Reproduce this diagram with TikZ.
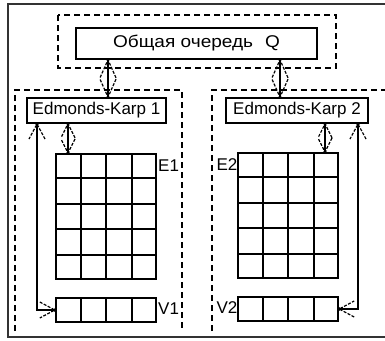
\documentclass[tikz,border=0pt]{standalone}
\usepackage{fontspec}
\setmainfont{Liberation Sans}
\newfontfamily\widefont[FakeStretch=1.12]{Liberation Sans}
\usetikzlibrary{calc,decorations.markings}
\begin{document}
\begin{tikzpicture}[x=1pt,y=-1pt,
  box/.style={draw, line width=1.6pt, inner sep=0pt, font=\fontsize{17}{19}\selectfont},
  dbox/.style={draw, line width=1.5pt, dash pattern=on 6pt off 4pt},
  cellbox/.style={draw, line width=2pt, inner sep=0pt},
  gridln/.style={line width=2pt},
  lbl/.style={inner sep=0pt, font=\fontsize{17}{19}\selectfont},
  conn/.style={line width=1.5pt},
  headst/.style={line width=1.2pt, dash pattern=on 3pt off 1.5pt},
  dblhead/.style 2 args={postaction={decorate,decoration={markings,
    mark=at position 0.001 with {\draw[headst] (#1pt,#2pt) -- (0,0) -- (#1pt,-#2pt); \fill (0,0) circle (1.8pt);},
    mark=at position 0.999 with {\draw[headst] (-#1pt,#2pt) -- (0,0) -- (-#1pt,-#2pt); \fill (0,0) circle (1.8pt);}}}}
]
\useasboundingbox (0,0) rectangle (385,340);
\clip (0,0) rectangle (385,340);
\fill[white] (0,0) rectangle (385,340);
% outer frame
\draw[line width=2pt, black!80] (390,3.5) -- (7.5,3.5) -- (7.5,337) -- (390,337);
% dashed groups
\draw[dbox] (58,15) rectangle (336,68);
\draw[dbox] (15,331) -- (15,90) -- (182,90) -- (182,331);
\draw[dbox] (212,331) -- (212,90) -- (390,90);
% boxes
\node[box, minimum width=241pt, minimum height=31pt, font=\widefont\fontsize{17}{19}\selectfont] (q) at (196.5,43.5) {Общая очередь\hspace{12pt}Q};
\node[box, minimum width=139pt, minimum height=25pt] (ek1) at (96.5,110.5) {Edmonds-Karp 1};
\node[box, minimum width=142pt, minimum height=25pt] (ek2) at (297,110.5) {Edmonds-Karp 2};
% matrices
\node[cellbox, minimum width=100pt, minimum height=125pt] (e1) at (106,216.5) {};
\node[cellbox, minimum width=100pt, minimum height=125pt] (e2) at (288,215.5) {};
\node[cellbox, minimum width=100pt, minimum height=24pt] (v1) at (106,310) {};
\node[cellbox, minimum width=100pt, minimum height=24pt] (v2) at (288,309) {};
\foreach \m in {e1,e2,v1,v2}{
  \foreach \i in {1,2,3}{
    \draw[gridln] ($(\m.north west)!\i/4!(\m.north east)$) -- ($(\m.south west)!\i/4!(\m.south east)$);
  }
}
\foreach \m in {e1,e2}{
  \foreach \i in {1,2,3,4}{
    \draw[gridln] ($(\m.north west)!\i/5!(\m.south west)$) -- ($(\m.north east)!\i/5!(\m.south east)$);
  }
}
% labels
\node[lbl, anchor=west] (le1) at (158,166) {E1};
\node[lbl, anchor=east] (le2) at (237.5,165) {E2};
\node[lbl, anchor=west] (lv1) at (158,309) {V1};
\node[lbl, anchor=east] (lv2) at (237.5,308) {V2};
% connector positions
\coordinate (x108) at (108,0);
\coordinate (x280) at (280,0);
\coordinate (x68) at (68,0);
\coordinate (x325) at (325,0);
\coordinate (x37) at (37,0);
\coordinate (x358) at (358,0);
% connectors
\draw[conn, dblhead={18}{8}] (q.south -| x108) -- (ek1.north -| x108);
\draw[conn, dblhead={18}{8}] (q.south -| x280) -- (ek2.north -| x280);
\draw[conn, dblhead={14}{7}] (ek1.south -| x68) -- (e1.north -| x68);
\draw[conn, dblhead={14}{7}] (ek2.south -| x325) -- (e2.north -| x325);
\draw[conn, dblhead={15}{8}] (ek1.south -| x37) |- (v1.west);
\draw[conn, dblhead={15}{8}] (ek2.south -| x358) |- (v2.east);
\end{tikzpicture}
\end{document}
